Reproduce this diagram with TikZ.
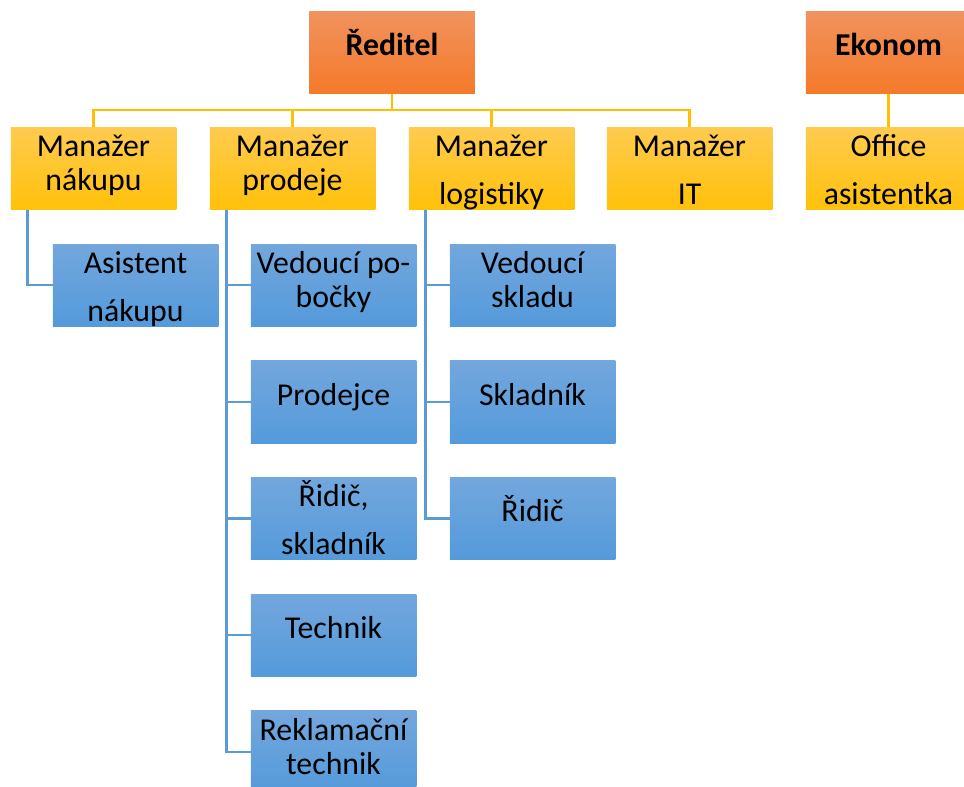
\documentclass[tikz,border=0pt]{standalone}
\usepackage{fontspec}
\setmainfont{Carlito}
\definecolor{or1}{RGB}{241,146,94}
\definecolor{or2}{RGB}{245,122,42}
\definecolor{ye1}{RGB}{255,203,80}
\definecolor{ye2}{RGB}{255,193,10}
\definecolor{bl1}{RGB}{115,167,221}
\definecolor{bl2}{RGB}{84,154,219}
\definecolor{ylc}{RGB}{255,192,0}
\definecolor{blc}{RGB}{91,155,213}
\tikzset{
  basebox/.style={rectangle, inner sep=0pt, minimum width=165.5pt, minimum height=82.5pt, draw=none},
  orbox/.style={basebox, top color=or1, bottom color=or2},
  yebox/.style={basebox, top color=ye1, bottom color=ye2},
  blbox/.style={basebox, top color=bl1, bottom color=bl2},
  lbl/.style={inner sep=0pt, font=\fontsize{31.8}{36}\selectfont, text=black},
  ylink/.style={draw=ylc, line width=2.4pt},
  blink/.style={draw=blc, line width=2.4pt},
}
\newcommand\boxone[5]{%
  \node[#2] (#1) at (#3,#4+41.25) {};
  \begin{scope}
    \clip (#1.north west) rectangle (#1.south east);
    \node[lbl,anchor=base] (#1-a) at ([yshift=-44.5pt]#1.north) {#5};
  \end{scope}}
\newcommand\boxtwo[7]{%
  \node[#2] (#1) at (#3,#4+41.25) {};
  \begin{scope}
    \clip (#1.north west) rectangle (#1.south east);
    \node[lbl,anchor=base] (#1-a) at ([yshift=-29.5pt]#1.north) {#6};
    \node[lbl,anchor=base] (#1-b) at ([yshift=-#5pt]#1.north) {#7};
  \end{scope}}
\begin{document}
\begin{tikzpicture}[x=1pt,y=-1pt]
\useasboundingbox (0,0) rectangle (964,787);
\clip (0,0) rectangle (964,787);
% top level
\boxone{red}{orbox}{392}{11}{\bfseries Ředitel}
\boxone{eko}{orbox}{888.5}{11}{\bfseries Ekonom}
% managers
\boxtwo{mn}{yebox}{93.5}{127}{64}{Manažer}{nákupu}
\boxtwo{mp}{yebox}{292.5}{127}{64}{Manažer}{prodeje}
\boxtwo{ml}{yebox}{491.5}{127}{77.5}{Manažer}{logistiky}
\boxtwo{mit}{yebox}{689.5}{127}{77.5}{Manažer}{IT}
\boxtwo{oa}{yebox}{888.5}{127}{77.5}{Office}{asistentka}
% staff
\boxtwo{an}{blbox}{135.5}{244}{77.5}{Asistent}{nákupu}
\boxtwo{p1}{blbox}{333.5}{244}{64}{Vedoucí po-}{bočky}
\boxone{p2}{blbox}{333.5}{360.7}{Prodejce}
\boxtwo{p3}{blbox}{333.5}{477.3}{77.5}{Řidič,}{skladník}
\boxone{p4}{blbox}{333.5}{594}{Technik}
\boxtwo{p5}{blbox}{333.5}{710.7}{64}{Reklamační}{technik}
\boxtwo{l1}{blbox}{532.5}{244}{64}{Vedoucí}{skladu}
\boxone{l2}{blbox}{532.5}{360.7}{Skladník}
\boxone{l3}{blbox}{532.5}{477.3}{Řidič}
% yellow connectors
\draw[ylink] (red.south) -- ++(0,16.5) coordinate (bus);
\draw[ylink] (mn.north) -- (mn.north |- bus) -- (mit.north |- bus) -- (mit.north);
\draw[ylink] (mp.north) -- (mp.north |- bus);
\draw[ylink] (ml.north) -- (ml.north |- bus);
\draw[ylink] (eko.south) -- (oa.north);
% blue connectors
\draw[blink] ([xshift=17pt]mn.south west) |- (an.west);
\foreach \c in {p1,p2,p3,p4,p5}
  \draw[blink] ([xshift=17pt]mp.south west) |- (\c.west);
\foreach \c in {l1,l2,l3}
  \draw[blink] ([xshift=17pt]ml.south west) |- (\c.west);
\end{tikzpicture}
\end{document}
